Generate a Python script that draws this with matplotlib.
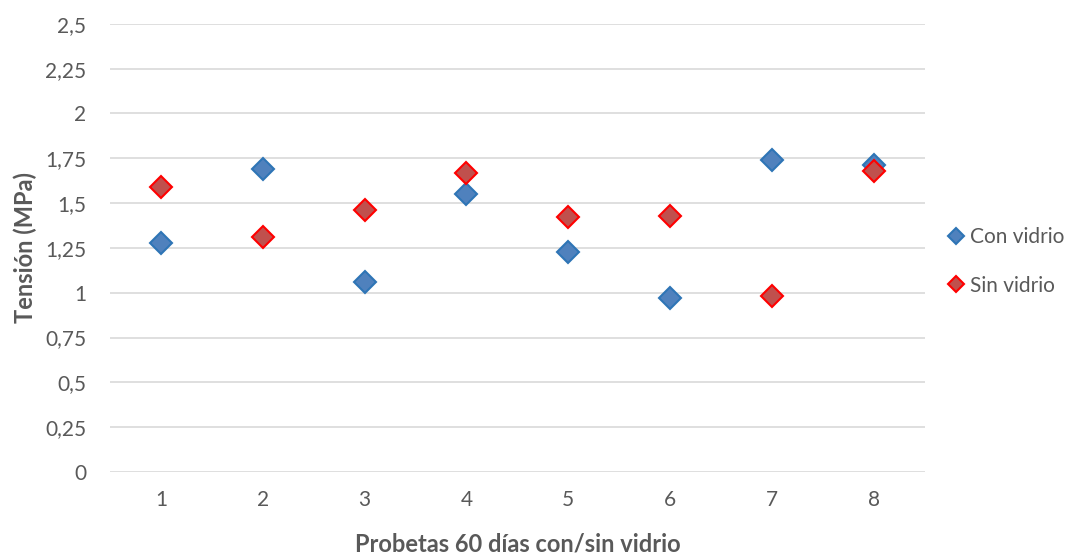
import numpy as np
import matplotlib.pyplot as plt
from matplotlib.ticker import FixedLocator, FuncFormatter

plt.rcParams['font.family'] = ['Lato', 'DejaVu Sans']

# datos
probetas = [1, 2, 3, 4, 5, 6, 7, 8]
con_vidrio = [1.28, 1.69, 1.06, 1.55, 1.23, 0.97, 1.74, 1.71]
sin_vidrio = [1.59, 1.31, 1.46, 1.67, 1.42, 1.43, 0.98, 1.68]
yticks = [0, 0.25, 0.5, 0.75, 1, 1.25, 1.5, 1.75, 2, 2.25, 2.5]

gris = '#595959'

fig = plt.figure(figsize=(10.69, 5.54), dpi=100)
ax = fig.add_axes([0.103, 0.148, 0.762, 0.809])

ax.plot(probetas, con_vidrio, ls='none', marker='D', ms=11, mfc='#4f81bd',
        mec='#2e75b6', mew=1.5, label='Con vidrio', zorder=3)
ax.plot(probetas, sin_vidrio, ls='none', marker='D', ms=11, mfc='#c0504d',
        mec='#ff0000', mew=1.5, label='Sin vidrio', zorder=3)

ax.set_xlim(0.5, 8.5)
ax.set_ylim(0, 2.5)
ax.yaxis.set_major_locator(FixedLocator(yticks))
ax.yaxis.set_major_formatter(FuncFormatter(lambda v, p: ('%g' % v).replace('.', ',')))
ax.set_xticks(probetas)
ax.grid(axis='y', color='#d9d9d9', lw=1.2)
ax.set_axisbelow(True)
for s in ax.spines.values():
    s.set_visible(False)
ax.tick_params(length=0, labelsize=15, colors=gris)
ax.tick_params(axis='y', pad=17)
ax.tick_params(axis='x', pad=13)

ax.set_ylabel('Tensión (MPa)', fontsize=17, fontweight='bold', color=gris, labelpad=6)
ax.set_xlabel('Probetas 60 días con/sin vidrio', fontsize=17, fontweight='bold', color=gris, labelpad=16)

ax.legend(loc='center left', bbox_to_anchor=(1.028, 0.47), frameon=False, fontsize=15,
          labelcolor=gris, handlelength=0.8, handletextpad=0.3, labelspacing=1.37,
          borderaxespad=0, borderpad=0, markerscale=0.7)

fig.savefig('out.png', dpi=100)
